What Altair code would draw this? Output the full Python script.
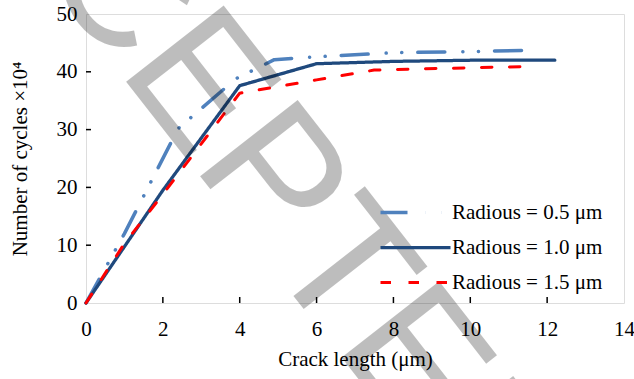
import altair as alt
import pandas as pd

series_names = ["Radious = 0.5 μm", "Radious = 1.0 μm", "Radious = 1.5 μm"]
series_colors = ["#4F81BD", "#1F497D", "#FF0000"]

x_r05 = [0, 1, 2.4, 3.9, 4.9, 6, 8, 10, 11.5]
y_r05 = [0, 12, 30.2, 38.8, 42.1, 42.6, 43.3, 43.5, 43.7]
x_r10 = [0, 2, 4, 6, 8, 10, 12.2]
y_r10 = [0, 19.5, 37.6, 41.4, 41.8, 42.0, 42.0]
x_r15 = [0, 1, 2, 4, 6, 7.5, 10, 11.5]
y_r15 = [0, 10.3, 18.8, 36.3, 38.6, 40.3, 40.7, 40.9]

x_ticks = [0, 2, 4, 6, 8, 10, 12, 14]
y_ticks = [0, 10, 20, 30, 40, 50]

watermark_left = ["ACC"]
watermark_right = ["EPTED"]

rows = []
for name, xs, ys in zip(series_names, [x_r05, x_r10, x_r15], [y_r05, y_r10, y_r15]):
    for i, (a, b) in enumerate(zip(xs, ys)):
        rows.append({"series": name, "x": a, "y": b, "i": i})
df = pd.DataFrame(rows)

FONT = "Liberation Serif"
x_scale = alt.Scale(domain=[0, 14], nice=False, zero=False)
y_scale = alt.Scale(domain=[0, 50], nice=False, zero=False)

x_enc = alt.X("x:Q", scale=x_scale, axis=alt.Axis(
    values=x_ticks, title="Crack length (μm)", domain=False, ticks=False, tickSize=0,
    labelPadding=15, labelFontSize=21, labelFont=FONT, labelColor="black",
    titleFontSize=21, titleFont=FONT, titleFontWeight="normal", titleColor="black",
    titlePadding=9, grid=False, labelFlush=False))
y_enc = alt.Y("y:Q", scale=y_scale, axis=alt.Axis(
    values=y_ticks, title="Number of cycles ×10⁴", domain=False, ticks=False, tickSize=0,
    labelPadding=9, labelFontSize=21, labelFont=FONT, labelColor="black",
    titleFontSize=21, titleFont=FONT, titleFontWeight="normal", titleColor="black",
    titlePadding=26, grid=False, labelFlush=False))

legend = alt.Legend(title=None, orient="none", legendX=319, legendY=188,
                    symbolType="M-5,0H5", symbolSize=196, symbolStrokeWidth=3.5,
                    labelFontSize=21, labelFont=FONT, labelColor="black", labelLimit=300,
                    rowPadding=13, labelOffset=26, padding=0)

lines = alt.Chart(df).mark_line(strokeCap="round", strokeJoin="round").encode(
    x=x_enc,
    y=y_enc,
    color=alt.Color("series:N", scale=alt.Scale(domain=series_names, range=series_colors), legend=legend),
    strokeDash=alt.StrokeDash("series:N", scale=alt.Scale(domain=series_names,
                              range=[[27, 18, 0.1, 15.5, 0.1, 16], [1, 0], [10.5, 17.5]]), legend=legend),
    strokeWidth=alt.StrokeWidth("series:N", scale=alt.Scale(domain=series_names, range=[3.5, 3, 4]), legend=None),
    order="i:Q",
)

xt_df = pd.DataFrame({"x": x_ticks[1:-1]})
yt_df = pd.DataFrame({"y": y_ticks[1:-1]})
xticks = alt.Chart(xt_df).mark_rule(color="black", strokeWidth=1.5).encode(
    x=x_enc, y=alt.value(289), y2=alt.value(283))
yticks = alt.Chart(yt_df).mark_rule(color="black", strokeWidth=1.5).encode(
    y=y_enc, x=alt.value(0), x2=alt.value(5))

WM_FONT = "Liberation Sans"
wm1 = alt.Chart(pd.DataFrame({"t": watermark_right})).mark_text(
    font=WM_FONT, fontSize=180, angle=52, align="left", baseline="alphabetic",
    fill="black", fillOpacity=0.26).encode(text="t:N", x=alt.value(31), y=alt.value(56))
wm2 = alt.Chart(pd.DataFrame({"t": watermark_left})).mark_text(
    font=WM_FONT, fontSize=180, angle=52, align="right", baseline="alphabetic",
    fill="black", fillOpacity=0.26).encode(text="t:N", x=alt.value(31), y=alt.value(56))

chart = alt.layer(lines, xticks, yticks, wm1, wm2).properties(
    width=538, height=289,
    padding={"left": 86, "top": 14, "right": 10, "bottom": 76},
    autosize=alt.AutoSizeParams(type="none"),
).configure_view(stroke="black", strokeWidth=2).configure(background="white")

chart.save("out.html", embed_options={"renderer": "svg", "actions": False})
